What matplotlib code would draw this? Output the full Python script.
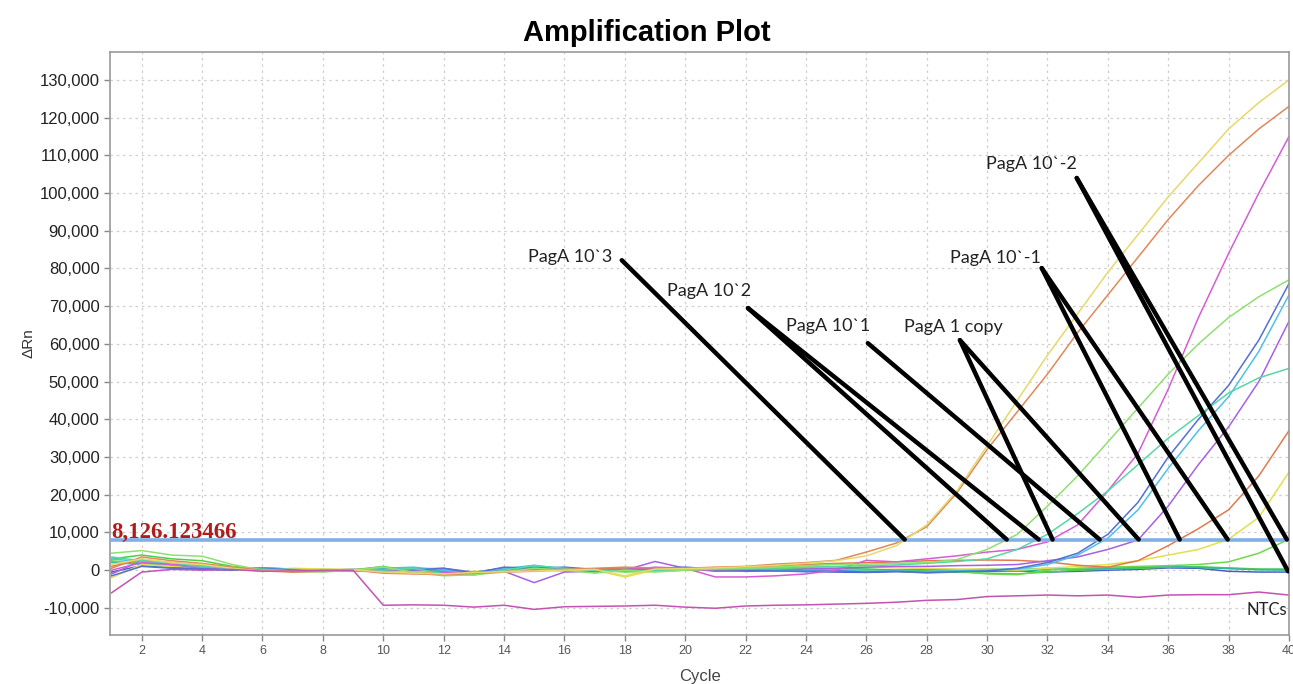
import numpy as np
import matplotlib.pyplot as plt
from matplotlib import transforms

plt.rcParams['font.family'] = ['Liberation Sans', 'DejaVu Sans']

cycles = np.arange(1, 41)

# delta Rn values, in thousands, cycles 1..40
pag_yellow = [1.5, 3.0, 2.0, 1.5, 0.5, -0.3, -0.2, 0.2, 0.1, -0.5, -0.8, -1.0, -0.6, -0.4, -0.2, 0.0, 0.2, -1.5, 0.3, 0.4,
              0.6, 0.9, 1.3, 1.8, 2.5, 3.8, 6.5, 12.0, 21.0, 33.0, 45.0, 57.0, 68.0, 79.0, 89.0, 99.0, 108.0, 117.0, 124.0, 130.0]
pag_orange = [0.5, 3.5, 2.5, 1.8, 0.8, 0.0, -0.4, -0.3, 0.0, -0.8, -1.0, -1.2, -0.8, -0.5, -0.3, 0.2, 0.5, 0.8, 0.6, 0.5,
              0.8, 1.0, 1.6, 2.0, 2.6, 4.8, 7.2, 11.5, 20.5, 32.0, 42.0, 52.0, 63.0, 73.0, 83.0, 93.0, 102.0, 110.0, 117.0, 123.0]
pag_lgreen = [4.5, 5.2, 4.0, 3.7, 1.5, 0.0, -0.3, -0.5, 0.0, 0.8, -0.5, -1.5, -1.2, -0.5, 0.5, 0.0, -0.8, 0.0, -0.5, 0.0,
              0.3, 0.5, 0.8, 1.2, 1.5, 1.6, 1.8, 2.0, 2.8, 5.5, 9.5, 17.0, 25.0, 34.0, 43.0, 52.0, 60.0, 67.0, 72.5, 77.0]
pag_teal = [3.5, 2.5, 2.0, 1.0, 0.5, 0.3, -0.2, 0.0, 0.2, 0.0, 0.5, -1.0, -1.3, 0.0, 1.2, 0.5, 0.0, -0.3, 0.0, 0.2,
            0.4, 0.3, 0.6, 0.8, 1.0, 1.2, 1.4, 1.8, 2.3, 3.0, 5.5, 9.5, 15.0, 21.0, 28.0, 35.0, 41.0, 47.0, 51.0, 53.5]
pag_magenta = [0.0, 2.0, 1.5, 1.0, 0.5, 0.0, -0.3, 0.0, 0.2, 0.0, 0.2, -0.6, -0.8, -0.3, 0.0, 0.3, 0.2, 0.0, 0.8, 0.5,
               -1.8, -1.8, -1.5, -1.0, 0.0, 2.6, 2.2, 3.0, 3.8, 4.8, 5.5, 7.5, 12.0, 21.0, 31.0, 48.0, 67.0, 84.0, 100.0, 115.0]
pag_blue = [-1.5, 1.0, 0.5, 0.3, 0.2, 0.5, 0.0, -0.2, 0.0, 0.2, 0.0, 0.5, -0.8, 0.8, 0.5, 0.8, 0.2, 0.0, 0.5, 0.8,
            0.3, 0.0, -0.2, -0.3, -0.2, -0.5, -0.3, -0.6, -0.4, -0.2, 0.5, 2.0, 4.5, 9.5, 18.0, 30.0, 40.0, 49.0, 61.0, 76.0]
pag_cyan = [3.0, 2.2, 1.5, 0.8, 0.4, 0.6, 0.2, 0.0, -0.2, 0.5, 0.8, 0.0, -0.5, 0.3, 1.0, 0.5, 0.0, 0.2, 0.0, 0.3,
            0.5, 0.3, 0.0, -0.2, 0.0, -0.3, -0.2, -0.4, -0.2, 0.0, 0.3, 1.5, 4.0, 8.5, 16.0, 27.0, 37.0, 46.0, 58.0, 73.0]
pag_purple = [-1.0, 2.5, 1.5, 0.5, 0.3, 0.0, -0.2, -0.3, 0.0, -0.2, 0.3, 0.5, -0.5, -0.3, -3.3, -0.5, -0.3, 0.0, 2.3, 0.5,
              -0.3, -0.2, 0.0, 0.3, 0.5, 0.8, 1.0, 1.0, 1.2, 1.3, 1.5, 2.5, 3.5, 5.5, 8.0, 17.0, 28.0, 38.0, 50.0, 66.0]
pag_red = [1.0, 2.8, 2.0, 1.5, 0.6, -0.2, -0.5, -0.3, 0.0, -0.5, -0.8, -0.8, -0.5, 0.0, 0.3, 0.0, 0.3, 0.5, 0.3, 0.2,
           0.5, 0.8, 1.2, 1.5, 1.8, 2.0, 2.2, 2.5, 2.6, 2.7, 2.6, 2.2, 1.3, 0.8, 2.5, 6.5, 11.0, 16.0, 25.0, 37.0]
pag_yellow2 = [-2.0, 1.5, 1.0, 1.2, 0.8, 0.0, 0.5, 0.3, 0.2, -0.3, -0.5, -0.8, -0.3, -0.2, 0.0, -0.3, 0.0, -1.8, 0.0, 0.3,
               0.6, 0.8, 1.0, 1.0, 0.8, 0.8, 0.6, 0.5, 0.3, 0.3, 0.0, 0.5, 1.0, 1.5, 2.5, 4.0, 5.5, 8.2, 14.0, 26.0]
pag_green = [2.5, 1.8, 1.2, 0.6, 0.3, -0.2, 0.0, 0.2, 0.0, 1.0, -0.5, -1.0, -0.8, 0.2, 0.5, -0.2, 0.0, -0.5, -0.3, 0.0,
             0.2, 0.0, 0.3, 0.5, 0.3, 0.0, -0.3, -0.5, -0.3, -1.0, -1.2, 0.0, 0.5, 0.8, 1.0, 1.2, 1.5, 2.2, 4.5, 8.2]
flat_blue = [-0.5, 1.2, 0.8, 0.2, 0.0, 0.6, 0.3, 0.0, -0.2, 0.0, 0.4, 0.0, -0.6, 0.6, 0.3, 0.5, 0.0, -0.2, 0.3, 0.5,
             0.0, -0.3, -0.2, -0.4, -0.5, -0.6, -0.4, -0.7, -0.5, -0.3, -0.2, -0.5, -0.3, 0.0, 0.2, 0.6, 0.5, -0.3, -0.5, -0.5]
flat_cyan = [2.0, 1.5, 1.0, 0.5, 0.2, 0.4, 0.0, 0.2, 0.0, 0.6, 0.2, -0.3, -0.8, 0.4, 1.3, 0.3, 0.0, 0.3, 0.2, 0.0,
             0.2, 0.0, -0.3, -0.1, 0.2, 0.0, -0.2, 0.1, 0.0, 0.3, 0.2, 0.5, 0.2, 0.4, 0.6, 0.9, 0.8, 0.5, 0.2, 0.3]
flat_green = [3.0, 4.0, 3.0, 2.5, 1.0, 0.2, -0.4, -0.2, 0.1, 0.9, -0.3, -1.2, -1.0, 0.0, 0.8, 0.2, -0.5, 0.0, -0.2, 0.0,
              0.2, 0.4, 0.6, 0.8, 0.5, 0.3, 0.0, -0.2, -0.5, -0.8, -1.0, -0.5, 0.0, 0.3, 0.5, 0.8, 0.9, 0.6, 0.3, 0.2]
flat_teal = [2.2, 1.8, 1.2, 0.7, 0.3, 0.1, 0.0, 0.1, -0.1, 0.3, 0.6, -0.5, -1.0, 0.2, 0.9, 0.4, 0.1, -0.2, 0.1, 0.0,
             0.3, 0.2, 0.4, 0.5, 0.3, 0.2, 0.0, 0.3, 0.1, 0.0, -0.3, 0.2, 0.4, 0.5, 0.7, 1.0, 0.7, 0.4, 0.1, 0.0]
ntc = [-6.0, -0.5, 0.2, 0.0, 0.2, -0.3, -0.2, 0.0, 0.0, -9.3, -9.2, -9.3, -9.8, -9.3, -10.4, -9.7, -9.6, -9.5, -9.3, -9.8,
       -10.1, -9.5, -9.3, -9.2, -9.0, -8.8, -8.5, -8.0, -7.8, -7.0, -6.8, -6.6, -6.8, -6.6, -7.2, -6.6, -6.5, -6.5, -5.8, -6.6]

threshold = 8126.123466

# label text, label position (cycle, kRn), line start (cycle, kRn), Ct values the line points to
labels = ["PagA 10`3", "PagA 10`2", "PagA 10`1", "PagA 1 copy", "PagA 10`-1", "PagA 10`-2"]
label_pos = [(14.79, 83.0), (19.39, 74.0), (23.33, 64.7), (27.24, 64.5), (28.77, 82.8), (29.96, 107.7)]
line_start = [(17.90, 82.2), (22.08, 69.5), (26.05, 60.2), (29.10, 61.0), (31.81, 80.1), (32.97, 104.0)]
line_ends = [[27.27], [30.65, 31.71], [33.73], [32.17, 35.02], [36.38, 37.97], [39.93]]

series = [
    (flat_blue, '#4a5cc8'), (flat_cyan, '#45c8d0'), (flat_green, '#48d048'), (flat_teal, '#35b898'),
    (pag_green, '#6fd84f'), (pag_yellow2, '#e3df4c'), (pag_red, '#e07a4c'), (pag_purple, '#a662e0'),
    (pag_cyan, '#4cc2e4'), (pag_blue, '#5470d4'), (pag_magenta, '#d45ed4'), (pag_teal, '#55d8a4'),
    (pag_lgreen, '#8fe070'), (pag_orange, '#e0885a'), (pag_yellow, '#e6d96a'), (ntc, '#c452b4'),
]

fig = plt.figure(figsize=(12.93, 6.84), dpi=100)
ax = fig.add_axes([0.0851, 0.0716, 0.9118, 0.8523])

for vals, col in series:
    ax.plot(cycles, np.array(vals) * 1000, color=col, linewidth=1.1, zorder=2)

ax.axhline(threshold, color='#80b0e4', linewidth=2.6, zorder=3)

trans = transforms.blended_transform_factory(ax.transAxes, ax.transData)
ax.text(0.001, threshold + 1800, '8,126.123466', transform=trans, color='#b01c1c',
        fontsize=16.5, fontweight='bold', family='Liberation Serif', va='center', ha='left', zorder=5)

for name, (lx, ly), (sx, sy), ends in zip(labels, label_pos, line_start, line_ends):
    ax.text(lx, ly * 1000, name, fontsize=13, family='Lato', va='center', ha='left', color='#222', zorder=6)
    for ct in ends:
        ax.plot([sx, ct], [sy * 1000, threshold], color='black', linewidth=3.2, solid_capstyle='round', zorder=5)
# the second 10`-2 line goes down to the baseline
ax.plot([line_start[5][0], 39.97], [line_start[5][1] * 1000, -300], color='black', linewidth=3.2,
        solid_capstyle='round', zorder=5)
ax.text(38.6, -10600, 'NTCs', fontsize=12, family='Lato', va='center', ha='left', color='#222', zorder=6)

ax.set_xlim(0.95, 40.0)
ax.set_ylim(-17200, 137400)
ax.set_xticks(np.arange(2, 41, 2))
ax.set_yticks(np.arange(-10000, 130001, 10000))
ax.set_yticklabels([f'{v:,}' for v in range(-10000, 130001, 10000)])
ax.tick_params(axis='y', labelsize=12, labelcolor='#222', color='#888', length=4, width=1)
ax.tick_params(axis='x', labelsize=9, labelcolor='#555', color='#888', length=4, width=1)
ax.grid(True, color='#cfcfcf', linestyle=(0, (2, 3)), linewidth=0.9)
for s in ax.spines.values():
    s.set_color('#9a9a9a')
    s.set_linewidth(1.2)

ax.set_xlabel('Cycle', fontsize=12, color='#444', labelpad=8)
ax.set_ylabel('\u0394Rn', fontsize=11, color='#333', labelpad=3)
fig.suptitle('Amplification Plot', fontsize=21, fontweight='bold', y=0.972, x=0.5)

fig.savefig('out.png', dpi=100)
